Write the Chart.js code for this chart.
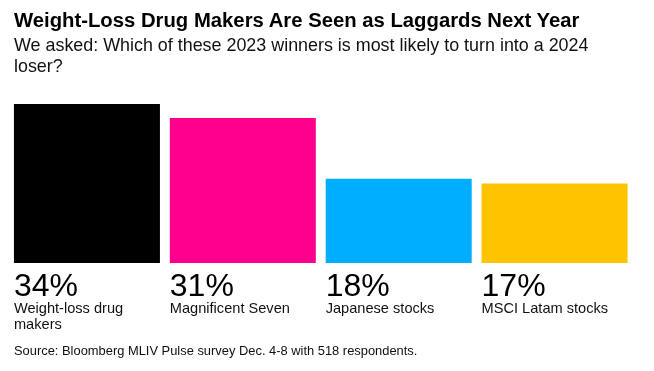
<!DOCTYPE html>
<html><head><meta charset="utf-8">
<script src="https://cdn.jsdelivr.net/npm/chart.js@4.4.0/dist/chart.umd.min.js"></script>
<style>
html,body{margin:0;padding:0;background:#fff;}
#wrap{position:relative;width:654px;height:371px;overflow:hidden;font-family:"Liberation Sans",Arial,Helvetica,sans-serif;color:#000;}
canvas{position:absolute;left:0;top:0;}
.t{position:absolute;left:14px;white-space:nowrap;}
#title{top:8px;font-size:20.3px;line-height:24px;font-weight:bold;}
#sub{top:35px;font-size:17.9px;line-height:21px;color:#111;}
#src{top:343px;font-size:12.9px;line-height:15px;color:#111;}
</style></head><body>
<div id="wrap">
<canvas id="c" width="654" height="371"></canvas>
<div class="t" id="title">Weight-Loss Drug Makers Are Seen as Laggards Next Year</div>
<div class="t" id="sub">We asked: Which of these 2023 winners is most likely to turn into a 2024<br>loser?</div>
<div class="t" id="src">Source: Bloomberg MLIV Pulse survey Dec. 4-8 with 518 respondents.</div>
</div>
<script>
const categories = ["Weight-loss drug makers", "Magnificent Seven", "Japanese stocks", "MSCI Latam stocks"];
const values = [34, 31, 18, 17];
const colors = ["#000000", "#FF008E", "#00AEFF", "#FFC300"];

const FONT = '"Liberation Sans", Arial, Helvetica, sans-serif';

function wrap(ctx, text, maxW) {
  const words = text.split(' ');
  const lines = [];
  let cur = '';
  words.forEach(w => {
    const test = cur ? cur + ' ' + w : w;
    if (cur && ctx.measureText(test).width > maxW) { lines.push(cur); cur = w; }
    else cur = test;
  });
  if (cur) lines.push(cur);
  return lines;
}

const labelPlugin = {
  id: 'barLabels',
  afterDatasetsDraw(chart) {
    const ctx = chart.ctx;
    const meta = chart.getDatasetMeta(0);
    const base = chart.scales.y.getPixelForValue(0);
    meta.data.forEach((bar, i) => {
      const left = bar.x - bar.width / 2;
      ctx.save();
      ctx.fillStyle = '#000';
      ctx.textAlign = 'left';
      ctx.textBaseline = 'alphabetic';
      ctx.font = '32px ' + FONT;
      ctx.fillText(values[i] + '%', left, base + 33);
      ctx.font = '14.6px ' + FONT;
      ctx.fillStyle = '#111';
      wrap(ctx, categories[i], bar.width).forEach((ln, j) => {
        ctx.fillText(ln, left, base + 50 + j * 16);
      });
      ctx.restore();
    });
  }
};

new Chart(document.getElementById('c'), {
  type: 'bar',
  data: {
    labels: categories,
    datasets: [{
      data: values,
      backgroundColor: colors,
      borderWidth: 0,
      barPercentage: 0.9366,
      categoryPercentage: 1
    }]
  },
  options: {
    responsive: false,
    animation: false,
    layout: { padding: { left: 9, right: 21.5, top: 104, bottom: 108 } },
    scales: {
      x: { display: false },
      y: { display: false, min: 0, max: 34 }
    },
    plugins: { legend: { display: false }, tooltip: { enabled: false } }
  },
  plugins: [labelPlugin]
});
</script>
</body></html>
